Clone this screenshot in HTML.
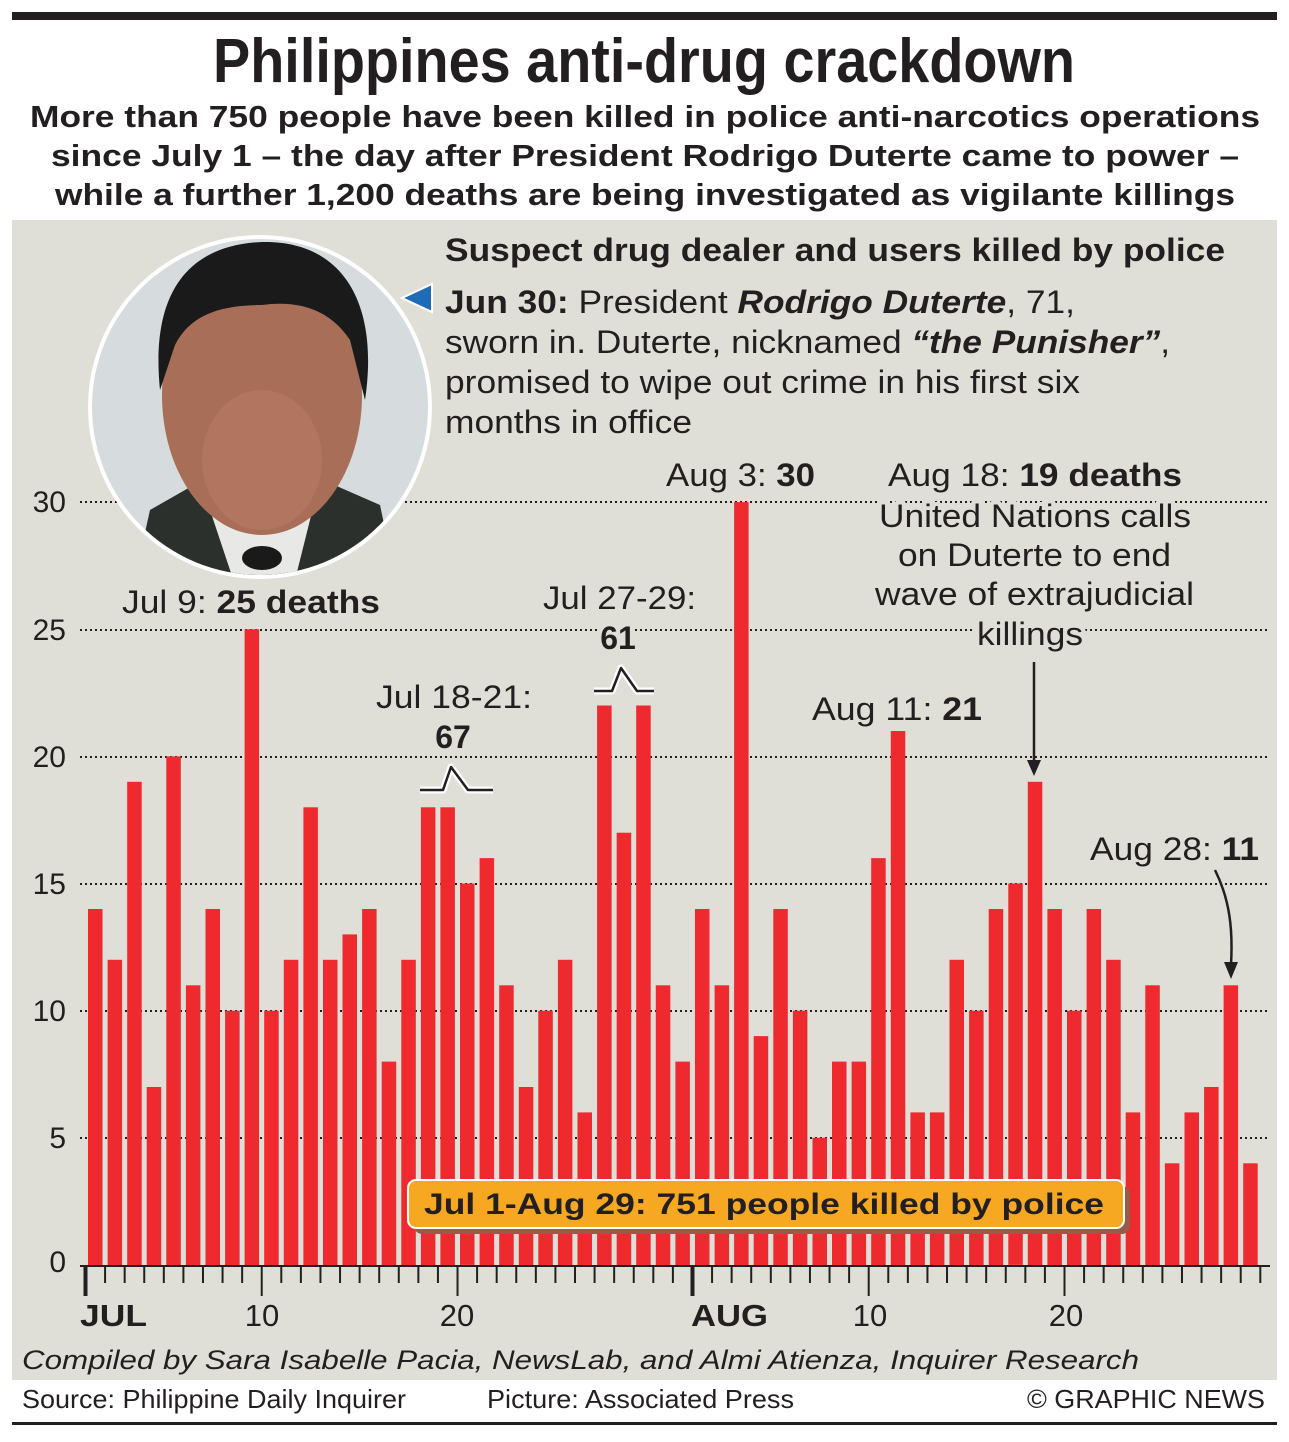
<!DOCTYPE html>
<html><head><meta charset="utf-8"><style>
html,body{margin:0;padding:0;background:#fff}
svg{display:block}
text{font-family:"Liberation Sans",Arial,sans-serif;fill:#231f20}
</style></head><body>
<svg width="1289" height="1442" viewBox="0 0 1289 1442" xmlns="http://www.w3.org/2000/svg">
<rect x="0" y="0" width="1289" height="1442" fill="#fff"/>
<rect x="12" y="12" width="1265" height="8" fill="#231f20"/>
<text x="644" y="82" text-anchor="middle" font-size="62" font-weight="bold" textLength="862" lengthAdjust="spacingAndGlyphs">Philippines anti-drug crackdown</text>
<text x="645" y="127" text-anchor="middle" font-size="31" font-weight="bold" textLength="1230" lengthAdjust="spacingAndGlyphs">More than 750 people have been killed in police anti-narcotics operations</text>
<text x="645" y="166" text-anchor="middle" font-size="31" font-weight="bold" textLength="1188" lengthAdjust="spacingAndGlyphs">since July 1 – the day after President Rodrigo Duterte came to power –</text>
<text x="645" y="205" text-anchor="middle" font-size="31" font-weight="bold" textLength="1180" lengthAdjust="spacingAndGlyphs">while a further 1,200 deaths are being investigated as vigilante killings</text>

<rect x="12" y="220" width="1265" height="1160" fill="#e0dfd7"/>

<g stroke="#231f20" stroke-width="2" stroke-dasharray="2,3">
<line x1="80" y1="502" x2="1270" y2="502"/>
<line x1="80" y1="630" x2="1270" y2="630"/>
<line x1="80" y1="757" x2="1270" y2="757"/>
<line x1="80" y1="884" x2="1270" y2="884"/>
<line x1="80" y1="1011" x2="1270" y2="1011"/>
<line x1="80" y1="1138" x2="1270" y2="1138"/>
</g>
<g font-size="30" text-anchor="end">
<text x="66" y="512">30</text><text x="66" y="640">25</text><text x="66" y="767">20</text>
<text x="66" y="894">15</text><text x="66" y="1021">10</text><text x="66" y="1148">5</text><text x="66" y="1272">0</text>
</g>

<g id="bars" fill="#ee2a2f"></g>

<line x1="80" y1="1266" x2="1270" y2="1266" stroke="#231f20" stroke-width="2"/>
<g id="ticks" stroke="#231f20" stroke-width="2"></g>
<g font-size="31">
<text x="80" y="1326" font-weight="bold" textLength="67" lengthAdjust="spacingAndGlyphs">JUL</text>
<text x="262" y="1326" text-anchor="middle">10</text>
<text x="457" y="1326" text-anchor="middle">20</text>
<text x="691" y="1326" font-weight="bold" textLength="77" lengthAdjust="spacingAndGlyphs">AUG</text>
<text x="870" y="1326" text-anchor="middle">10</text>
<text x="1066" y="1326" text-anchor="middle">20</text>
</g>
<text x="22" y="1369" font-size="27" font-style="italic" textLength="1117" lengthAdjust="spacingAndGlyphs">Compiled by Sara Isabelle Pacia, NewsLab, and Almi Atienza, Inquirer Research</text>
<g font-size="26">
<text x="22" y="1408" textLength="384" lengthAdjust="spacingAndGlyphs">Source: Philippine Daily Inquirer</text>
<text x="487" y="1408" textLength="307" lengthAdjust="spacingAndGlyphs">Picture: Associated Press</text>
<text x="1027" y="1408" textLength="238" lengthAdjust="spacingAndGlyphs">© GRAPHIC NEWS</text>
</g>
<rect x="12" y="1422" width="1265" height="3" fill="#231f20"/>

<!-- photo -->
<defs><clipPath id="c"><circle cx="260" cy="407" r="168"/></clipPath></defs>
<circle cx="260" cy="407" r="172" fill="#fff"/>
<g clip-path="url(#c)">
<rect x="80" y="230" width="360" height="360" fill="#d6dbde"/>
<path d="M130 600 L150 510 L220 470 L300 470 L380 505 L400 600 Z" fill="#2b302c"/>
<path d="M200 480 L240 600 L290 600 L320 480 Z" fill="#e8e8e6"/>
<ellipse cx="262" cy="395" rx="100" ry="140" fill="#a86e58"/>
<path d="M160 390 C150 290 190 245 262 242 C340 240 380 300 365 400 L350 340 C330 310 300 300 262 305 C220 305 190 315 175 345 Z" fill="#1b1a1a"/>
<ellipse cx="262" cy="460" rx="60" ry="70" fill="#b27560"/>
<ellipse cx="262" cy="558" rx="20" ry="12" fill="#1b1a1a"/>
</g>

<path d="M402 298 L432 284 L432 312 Z" fill="#1e6bb8" stroke="#fff" stroke-width="2"/>
<g font-size="32">
<text x="445" y="261" font-weight="bold" textLength="780" lengthAdjust="spacingAndGlyphs">Suspect drug dealer and users killed by police</text>
<text x="445" y="313" textLength="630" lengthAdjust="spacingAndGlyphs"><tspan font-weight="bold">Jun 30:</tspan> President <tspan font-weight="bold" font-style="italic">Rodrigo Duterte</tspan>, 71,</text>
<text x="445" y="353" textLength="725" lengthAdjust="spacingAndGlyphs">sworn in. Duterte, nicknamed <tspan font-weight="bold" font-style="italic">“the Punisher”</tspan>,</text>
<text x="445" y="393" textLength="635" lengthAdjust="spacingAndGlyphs">promised to wipe out crime in his first six</text>
<text x="445" y="433" textLength="247" lengthAdjust="spacingAndGlyphs">months in office</text>
</g>

<g font-size="32" stroke="#e0dfd7" stroke-width="8" paint-order="stroke" stroke-linejoin="round" lengthAdjust="spacingAndGlyphs">
<text x="122" y="613" textLength="258" lengthAdjust="spacingAndGlyphs">Jul 9: <tspan font-weight="bold">25 deaths</tspan></text>
<text x="666" y="486" textLength="149" lengthAdjust="spacingAndGlyphs">Aug 3: <tspan font-weight="bold">30</tspan></text>
<text x="888" y="486" textLength="294" lengthAdjust="spacingAndGlyphs">Aug 18: <tspan font-weight="bold">19 deaths</tspan></text>
<text x="879" y="527" textLength="312" lengthAdjust="spacingAndGlyphs">United Nations calls</text>
<text x="898" y="566" textLength="273" lengthAdjust="spacingAndGlyphs">on Duterte to end</text>
<text x="875" y="605" textLength="319" lengthAdjust="spacingAndGlyphs">wave of extrajudicial</text>
<text x="977" y="645" textLength="106" lengthAdjust="spacingAndGlyphs">killings</text>
<text x="543" y="609" textLength="153" lengthAdjust="spacingAndGlyphs">Jul 27-29:</text>
<text x="618" y="649" text-anchor="middle" font-weight="bold">61</text>
<text x="376" y="708" textLength="156" lengthAdjust="spacingAndGlyphs">Jul 18-21:</text>
<text x="453" y="748" text-anchor="middle" font-weight="bold">67</text>
<text x="812" y="720" textLength="170" lengthAdjust="spacingAndGlyphs">Aug 11: <tspan font-weight="bold">21</tspan></text>
<text x="1090" y="860" textLength="169" lengthAdjust="spacingAndGlyphs">Aug 28: <tspan font-weight="bold">11</tspan></text>
</g>

<g fill="none" stroke-linejoin="round">
<path d="M420 790 L443 790 L451 767 L468 790 L493 790" stroke="#fff" stroke-width="7"/>
<path d="M420 790 L443 790 L451 767 L468 790 L493 790" stroke="#231f20" stroke-width="2.5"/>
<path d="M594 691 L612 691 L621 668 L637 691 L654 691" stroke="#fff" stroke-width="7"/>
<path d="M594 691 L612 691 L621 668 L637 691 L654 691" stroke="#231f20" stroke-width="2.5"/>
<line x1="1034" y1="662" x2="1034" y2="762" stroke="#231f20" stroke-width="2.5"/>
<path d="M1215 870 C1230 900 1233 930 1231 965" stroke="#231f20" stroke-width="2.5"/>
</g>
<path d="M1027 760 L1041 760 L1034 776 Z" fill="#231f20"/>
<path d="M1224 962 L1238 962 L1231 979 Z" fill="#231f20"/>

<rect x="414" y="1186" width="716" height="48" rx="8" fill="#9a5a48"/>
<rect x="408" y="1180" width="716" height="48" rx="8" fill="#f7a823" stroke="#fff" stroke-width="2"/>
<text x="424" y="1214" font-size="30" font-weight="bold" textLength="680" lengthAdjust="spacingAndGlyphs">Jul 1-Aug 29: 751 people killed by police</text>
</svg>
<script>
var v=[14,12,19,7,20,11,14,10,25,10,12,18,12,13,14,8,12,18,18,15,16,11,7,10,12,6,22,17,22,11,8,14,11,30,9,14,10,5,8,8,16,21,6,6,12,10,14,15,19,14,10,14,12,6,11,4,6,7,11,4];
var ns="http://www.w3.org/2000/svg",b=document.getElementById('bars'),t=document.getElementById('ticks');
var p=19.58,u=25.43;
v.forEach(function(d,i){var r=document.createElementNS(ns,'rect');var x=88+i*p;r.setAttribute('x',x.toFixed(1));r.setAttribute('width','14.5');var h=d*u;r.setAttribute('y',(1265-h).toFixed(1));r.setAttribute('height',h.toFixed(1));b.appendChild(r);});
for(var k=0;k<=60;k++){var x=85.5+k*p;var big=(k==0||k==31);var mid=(k==9||k==19||k==40||k==50);var l=document.createElementNS(ns,'line');l.setAttribute('x1',x);l.setAttribute('x2',x);l.setAttribute('y1',1266);l.setAttribute('y2',big?1296:(mid?1296:1283));if(big)l.setAttribute('stroke-width','4');t.appendChild(l);}
</script>
</body></html>
